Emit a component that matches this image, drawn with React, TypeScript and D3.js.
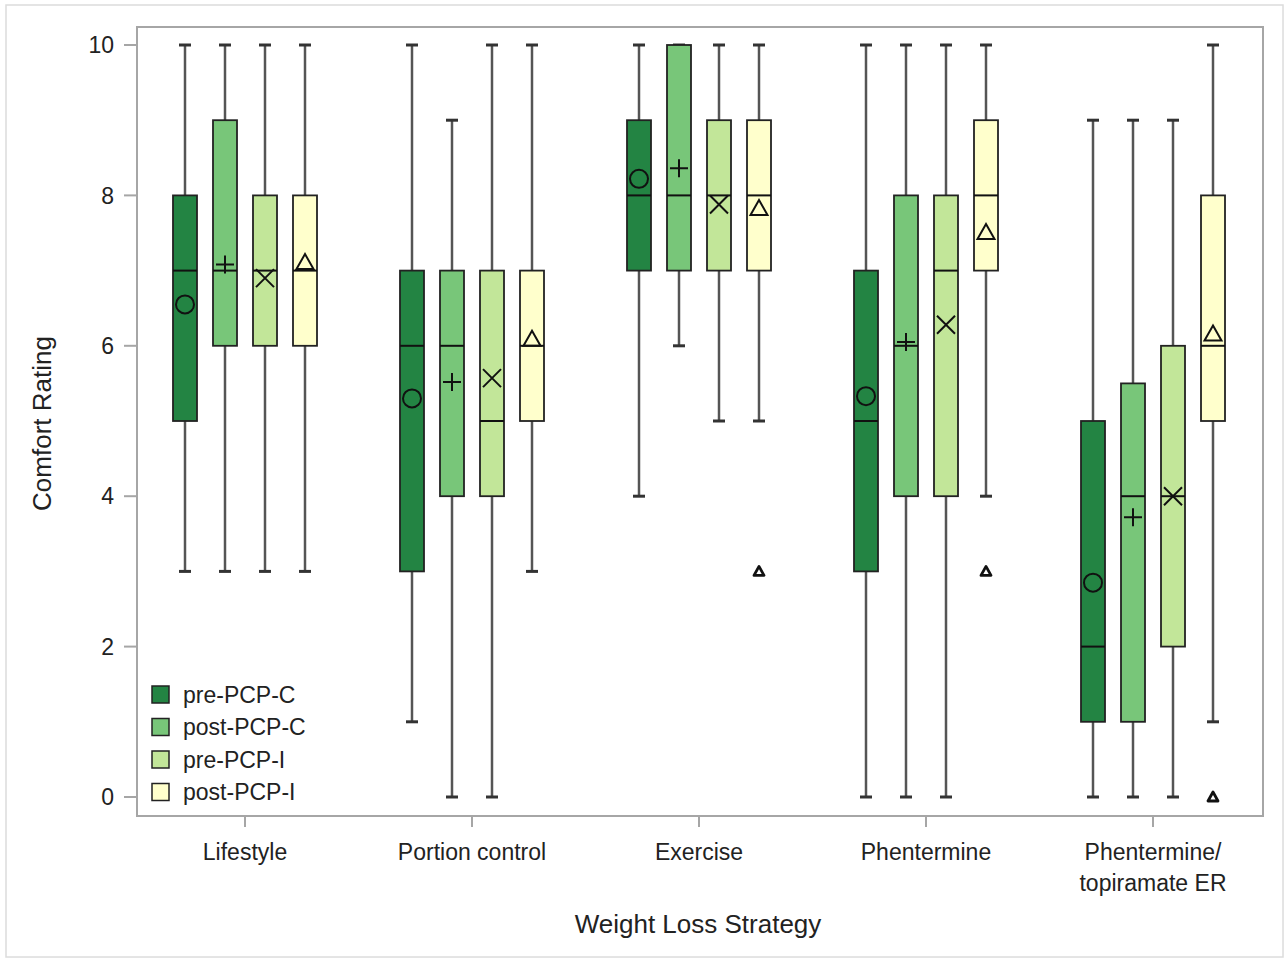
import React from "react";
import * as d3 from "d3";

const categories = ["Lifestyle", "Portion control", "Exercise", "Phentermine", "Phentermine/\ntopiramate ER"];
const seriesNames = ["pre-PCP-C", "post-PCP-C", "pre-PCP-I", "post-PCP-I"];
const seriesColors = ["#238443", "#78c679", "#c2e699", "#ffffcc"];
const meanSymbols = ["circle", "plus", "x", "triangle"];
const yTicks = [0, 2, 4, 6, 8, 10];

// [min, q1, median, q3, max, mean] per category, per series
const preC = [
  [3, 5, 7, 8, 10, 6.55],
  [1, 3, 6, 7, 10, 5.3],
  [4, 7, 8, 9, 10, 8.22],
  [0, 3, 5, 7, 10, 5.33],
  [0, 1, 2, 5, 9, 2.85],
];
const postC = [
  [3, 6, 7, 9, 10, 7.08],
  [0, 4, 6, 7, 9, 5.52],
  [6, 7, 8, 10, 10, 8.36],
  [0, 4, 6, 8, 10, 6.05],
  [0, 1, 4, 5.5, 9, 3.72],
];
const preI = [
  [3, 6, 7, 8, 10, 6.9],
  [0, 4, 5, 7, 10, 5.57],
  [5, 7, 8, 9, 10, 7.88],
  [0, 4, 7, 8, 10, 6.28],
  [0, 2, 4, 6, 9, 4.0],
];
const postI = [
  [3, 6, 7, 8, 10, 7.1],
  [3, 5, 6, 7, 10, 6.08],
  [5, 7, 8, 9, 10, 7.82],
  [4, 7, 8, 9, 10, 7.5],
  [1, 5, 6, 8, 10, 6.15],
];
const seriesData = [preC, postC, preI, postI];
// outliers: [categoryIndex, seriesIndex, value]
const outliers = [
  [2, 3, 3],
  [3, 3, 3],
  [4, 3, 0],
];

const FONT = "'Liberation Sans', Arial, sans-serif";

function MeanMarker({ type, x, y }: { type: string; x: number; y: number }) {
  const s = 9;
  const st = { stroke: "#111", strokeWidth: 2, fill: "none" } as const;
  if (type === "circle") return <circle cx={x} cy={y} r={s} {...st} />;
  if (type === "plus")
    return <path d={`M${x - s},${y}H${x + s}M${x},${y - s}V${y + s}`} {...st} />;
  if (type === "x")
    return <path d={`M${x - s},${y - s}L${x + s},${y + s}M${x - s},${y + s}L${x + s},${y - s}`} {...st} />;
  return <path d={`M${x},${y - 9}L${x + 8.5},${y + 6}L${x - 8.5},${y + 6}Z`} {...st} />;
}

export default function App() {
  const W = 1286, H = 962;
  const plot = { left: 137, right: 1263, top: 27, bottom: 816 };
  const y = d3.scaleLinear().domain([0, 10]).range([797, 45]);
  const x = d3.scalePoint<string>().domain(categories).range([245, 1153]);
  const offsets = d3.scalePoint<string>().domain(seriesNames).range([-60, 60]);
  const boxW = 24;
  const capW = 12;

  return (
    <svg width={W} height={H} style={{ display: "block", position: "absolute", left: 0, top: 0 }} fontFamily={FONT}>
      <rect x={0} y={0} width={W} height={H} fill="#fff" />
      <rect x={6} y={5} width={1277} height={952} fill="none" stroke="#dcdcdc" strokeWidth={1.5} />
      <rect x={plot.left} y={plot.top} width={plot.right - plot.left} height={plot.bottom - plot.top} fill="#fff" stroke="#a6a6a6" strokeWidth={2} />

      {/* y axis */}
      {yTicks.map((t) => (
        <g key={t}>
          <line x1={124} x2={136} y1={y(t)} y2={y(t)} stroke="#a6a6a6" strokeWidth={2} />
          <text x={114} y={y(t)} dy="0.36em" textAnchor="end" fontSize={23} fill="#222">{t}</text>
        </g>
      ))}
      <text transform={`translate(51,${(plot.top + plot.bottom) / 2 + 2}) rotate(-90)`} textAnchor="middle" fontSize={26} fill="#222">Comfort Rating</text>

      {/* x axis */}
      {categories.map((c) => {
        const lines = c.split("\n");
        return (
          <g key={c}>
            <line x1={x(c)!} x2={x(c)!} y1={plot.bottom + 1} y2={plot.bottom + 11} stroke="#a6a6a6" strokeWidth={2} />
            {lines.map((l, i) => (
              <text key={i} x={x(c)!} y={860 + i * 31} textAnchor="middle" fontSize={23} fill="#222">{l}</text>
            ))}
          </g>
        );
      })}
      <text x={698} y={933} textAnchor="middle" fontSize={26} fill="#222">Weight Loss Strategy</text>

      {/* boxes */}
      {seriesData.map((ser, si) =>
        ser.map((d, ci) => {
          const cx = x(categories[ci])! + offsets(seriesNames[si])!;
          const [mn, q1, md, q3, mx, mean] = d;
          return (
            <g key={`${si}-${ci}`}>
              <line x1={cx} x2={cx} y1={y(mx)} y2={y(q3)} stroke="#555" strokeWidth={2.5} />
              <line x1={cx} x2={cx} y1={y(q1)} y2={y(mn)} stroke="#555" strokeWidth={2.5} />
              <line x1={cx - capW / 2} x2={cx + capW / 2} y1={y(mx)} y2={y(mx)} stroke="#333" strokeWidth={3} />
              <line x1={cx - capW / 2} x2={cx + capW / 2} y1={y(mn)} y2={y(mn)} stroke="#333" strokeWidth={3} />
              <rect x={cx - boxW / 2} y={y(q3)} width={boxW} height={y(q1) - y(q3)} fill={seriesColors[si]} stroke="#222" strokeWidth={1.8} />
              <line x1={cx - boxW / 2} x2={cx + boxW / 2} y1={y(md)} y2={y(md)} stroke="#111" strokeWidth={2} />
              <MeanMarker type={meanSymbols[si]} x={cx} y={y(mean)} />
            </g>
          );
        })
      )}

      {/* outliers */}
      {outliers.map(([ci, si, v], i) => {
        const cx = x(categories[ci])! + offsets(seriesNames[si])!;
        const cy = y(v);
        return <path key={i} d={`M${cx},${cy - 5}L${cx + 5},${cy + 4}L${cx - 5},${cy + 4}Z`} fill="none" stroke="#111" strokeWidth={2.8} strokeLinejoin="round" />;
      })}

      {/* legend */}
      {seriesNames.map((n, i) => (
        <g key={n}>
          <rect x={152} y={686 + i * 32.5} width={17} height={17} fill={seriesColors[i]} stroke="#222" strokeWidth={1.5} />
          <text x={183} y={694.5 + i * 32.5} dy="0.36em" fontSize={23} fill="#222">{n}</text>
        </g>
      ))}
    </svg>
  );
}
